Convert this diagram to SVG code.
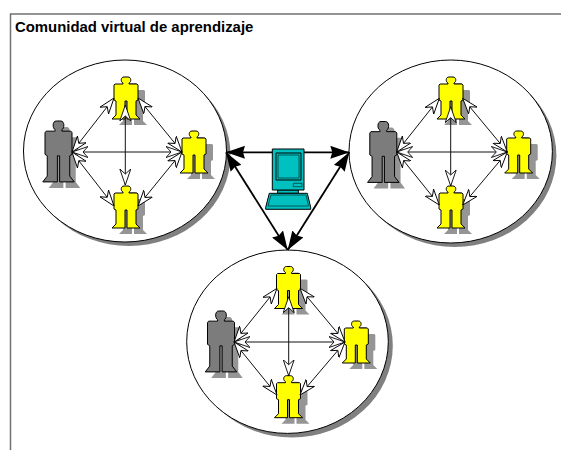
<svg xmlns="http://www.w3.org/2000/svg" xmlns:xlink="http://www.w3.org/1999/xlink" width="561" height="450" viewBox="0 0 561 450">
<style>
.t{font-family:"Liberation Sans",Arial,sans-serif;font-size:14.9px;font-weight:bold;fill:#000}
.circ{fill:#fff;stroke:#000;stroke-width:1}
.csh{fill:#808080}
.sh{fill:#959595;stroke:none}
.y{fill:#ffff00;stroke:#000;stroke-width:1}
.g{fill:#7c7c7c;stroke:#000;stroke-width:1}
.fig{vector-effect:non-scaling-stroke}
.thin{stroke:#111;stroke-width:1;fill:none;marker-start:url(#o);marker-end:url(#o)}
.thick{stroke:#000;stroke-width:1.8;fill:none;marker-start:url(#b);marker-end:url(#b)}
.c{fill:#00c0c0;stroke:#000;stroke-width:1}
.c2{fill:#00c0c0;stroke:#003c3c;stroke-width:.8}
</style>
<defs>
<marker id="o" viewBox="0 0 16 12" refX="16" refY="6" markerWidth="16" markerHeight="12" markerUnits="userSpaceOnUse" orient="auto-start-reverse"><path d="M16 6L0 .5L5 6L0 11.500Z" fill="#fff" stroke="#000" stroke-width=".9"/></marker>
<marker id="b" viewBox="0 0 19 13" refX="19" refY="6.500" markerWidth="19" markerHeight="13" markerUnits="userSpaceOnUse" orient="auto-start-reverse"><path d="M19 6.500L0 0L2 6.500L0 13Z" fill="#000"/></marker>
<path id="p" class="fig" d="M-3 6C-5.500 5 -5.500 0 -2 0H2C5.500 0 5.500 5 3 6L3 7H11L12 8V23L10 24V38L14 42H1V24H-1V42H-14L-10 38V24L-12 23V8L-11 7H-3Z"/>
</defs>
<path d="M10.500 450V14H561" fill="none" stroke="#707070" stroke-width="1.500"/>
<text class="t" x="15" y="32">Comunidad virtual de aprendizaje</text>
<g id="cluster-left">
<ellipse class="csh" cx="129" cy="155" rx="101.500" ry="91"/>
<ellipse class="circ" cx="125" cy="151" rx="101.500" ry="91"/>
<g id="person-l-grey"><use xlink:href="#p" class="sh" transform="translate(64.500 127) scale(1.125 1.45)"/><use xlink:href="#p" class="g" transform="translate(58.500 121) scale(1.125 1.45)"/></g>
<g id="person-l-top"><use xlink:href="#p" class="sh" transform="translate(133 83)"/><use xlink:href="#p" class="y" transform="translate(126 77)"/></g>
<g id="person-l-right"><use xlink:href="#p" class="sh" transform="translate(201 137)"/><use xlink:href="#p" class="y" transform="translate(194 131)"/></g>
<g id="person-l-bottom"><use xlink:href="#p" class="sh" transform="translate(133 192)"/><use xlink:href="#p" class="y" transform="translate(126 186)"/></g>
</g>
<g id="cluster-right">
<ellipse class="csh" cx="454.700" cy="155.500" rx="101.700" ry="91.500"/>
<ellipse class="circ" cx="450.700" cy="151.500" rx="101.700" ry="91.500"/>
<g id="person-r-grey"><use xlink:href="#p" class="sh" transform="translate(389.300 127.500) scale(1.125 1.45)"/><use xlink:href="#p" class="g" transform="translate(383.300 121.500) scale(1.125 1.45)"/></g>
<g id="person-r-top"><use xlink:href="#p" class="sh" transform="translate(458 83)"/><use xlink:href="#p" class="y" transform="translate(451 77)"/></g>
<g id="person-r-right"><use xlink:href="#p" class="sh" transform="translate(525.700 137)"/><use xlink:href="#p" class="y" transform="translate(518.700 131)"/></g>
<g id="person-r-bottom"><use xlink:href="#p" class="sh" transform="translate(458 192)"/><use xlink:href="#p" class="y" transform="translate(451 186)"/></g>
</g>
<g id="cluster-bottom">
<ellipse class="csh" cx="292" cy="345.700" rx="100.800" ry="91.700"/>
<ellipse class="circ" cx="287.500" cy="341.700" rx="100.800" ry="91.700"/>
<g id="person-b-grey"><use xlink:href="#p" class="sh" transform="translate(227 317) scale(1.125 1.45)"/><use xlink:href="#p" class="g" transform="translate(221 311) scale(1.125 1.45)"/></g>
<g id="person-b-top"><use xlink:href="#p" class="sh" transform="translate(295.500 272.500)"/><use xlink:href="#p" class="y" transform="translate(288.500 266.500)"/></g>
<g id="person-b-right"><use xlink:href="#p" class="sh" transform="translate(363.300 327)"/><use xlink:href="#p" class="y" transform="translate(356.300 321)"/></g>
<g id="person-b-bottom"><use xlink:href="#p" class="sh" transform="translate(295.500 381.700)"/><use xlink:href="#p" class="y" transform="translate(288.500 375.700)"/></g>
</g>
<g id="connectors">
<path class="thin" d="M72 152H182"/>
<path class="thin" d="M125.300 105V185"/>
<path class="thin" d="M72 152L114 98"/>
<path class="thin" d="M72 152L114 206"/>
<path class="thin" d="M138 98L182 152"/>
<path class="thin" d="M138 206L182 152"/>
<path class="thin" d="M396.700 152H507.300"/>
<path class="thin" d="M450.700 106.700V186"/>
<path class="thin" d="M396.700 152L439.300 98.300"/>
<path class="thin" d="M396.700 152L439.300 205"/>
<path class="thin" d="M462.700 98.300L507.300 152"/>
<path class="thin" d="M462.700 205L507.300 152"/>
<path class="thin" d="M234 342H345"/>
<path class="thin" d="M288.700 296.700V375.700"/>
<path class="thin" d="M234 342L277 288.300"/>
<path class="thin" d="M234 342L277 395"/>
<path class="thin" d="M300 288.300L345 342"/>
<path class="thin" d="M300 395L345 342"/>
<path class="thick" d="M226 152.300H349.300"/>
<path class="thick" d="M226 152.300L287.700 250"/>
<path class="thick" d="M349.300 152.300L287.700 250"/>
</g>
<g id="computer">
<path class="c" d="M277.700 190H298.300V193.300H277.700Z"/>
<path class="c" d="M272.300 149H304V190H272.300Z"/>
<path class="c" d="M276 153H301V180H276Z" stroke-width="1.500"/>
<path class="c2" d="M278 155H299V178H278Z"/>
<path class="c2" d="M293.300 183.300H302V186.700H293.300Z"/>
<path class="c" d="M265.700 207.300L269.300 193.300H307.300L310.700 207.300V209.300H265.700Z"/>
<path class="c2" d="M271 195H306L308.500 206H268Z"/>
</g>
</svg>
